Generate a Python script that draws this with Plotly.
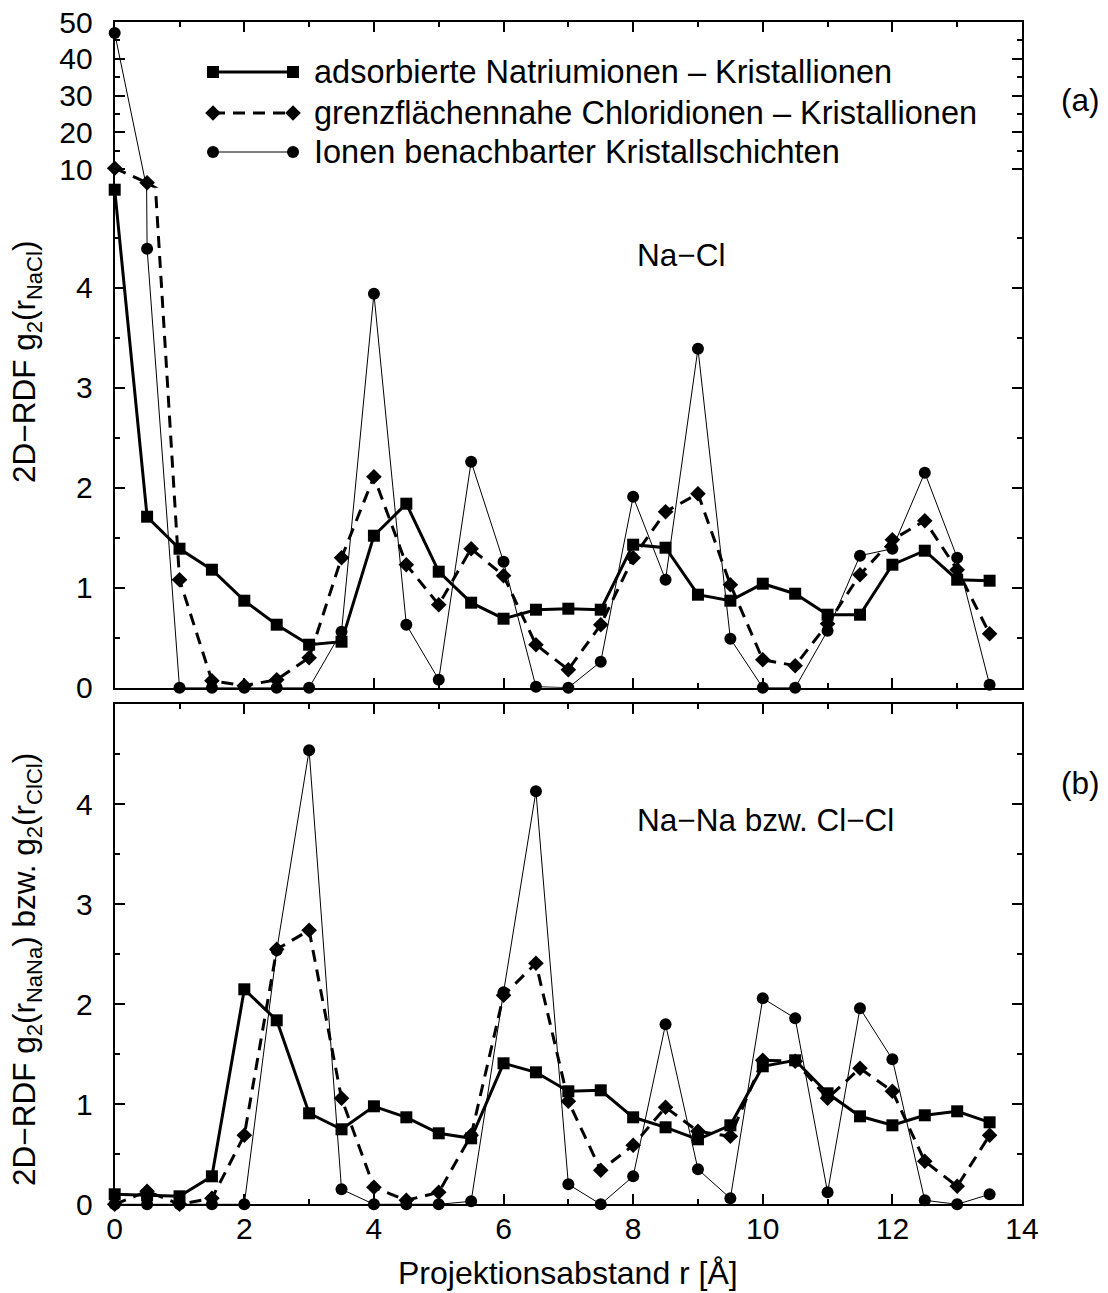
import plotly.graph_objects as go

# Projection distance r in Angstrom
r = [0.0, 0.5, 1.0, 1.5, 2.0, 2.5, 3.0, 3.5, 4.0, 4.5, 5.0, 5.5, 6.0, 6.5,
     7.0, 7.5, 8.0, 8.5, 9.0, 9.5, 10.0, 10.5, 11.0, 11.5, 12.0, 12.5, 13.0, 13.5]

# (a) Na-Cl 2D-RDF
nacl_na_ads = [4.98, 1.71, 1.39, 1.18, 0.87, 0.63, 0.43, 0.46, 1.52, 1.84, 1.16, 0.85, 0.69, 0.78,
               0.79, 0.78, 1.43, 1.40, 0.93, 0.87, 1.04, 0.94, 0.73, 0.73, 1.23, 1.37, 1.08, 1.07]
nacl_cl_int = [10.3, 6.36, 1.08, 0.07, 0.02, 0.08, 0.30, 1.30, 2.11, 1.23, 0.83, 1.39, 1.12, 0.43,
               0.18, 0.63, 1.30, 1.76, 1.94, 1.03, 0.28, 0.22, 0.64, 1.13, 1.48, 1.67, 1.18, 0.54]
nacl_layers = [47.0, 4.39, 0.0, 0.0, 0.0, 0.0, 0.0, 0.56, 3.94, 0.63, 0.08, 2.26, 1.26, 0.01,
               0.0, 0.26, 1.91, 1.08, 3.39, 0.49, 0.0, 0.0, 0.57, 1.32, 1.39, 2.15, 1.30, 0.03]

# (b) Na-Na resp. Cl-Cl 2D-RDF
same_na_ads = [0.10, 0.09, 0.08, 0.28, 2.15, 1.84, 0.91, 0.75, 0.98, 0.87, 0.71, 0.66, 1.41, 1.32,
               1.13, 1.14, 0.87, 0.77, 0.65, 0.79, 1.38, 1.44, 1.11, 0.88, 0.79, 0.89, 0.93, 0.82]
same_cl_int = [0.0, 0.13, 0.0, 0.06, 0.69, 2.55, 2.74, 1.06, 0.17, 0.04, 0.12, 0.69, 2.09, 2.41,
               1.03, 0.34, 0.59, 0.97, 0.73, 0.68, 1.44, 1.43, 1.06, 1.36, 1.13, 0.43, 0.18, 0.69]
same_layers = [0.0, 0.0, 0.0, 0.0, 0.0, 2.54, 4.54, 0.15, 0.0, 0.0, 0.0, 0.03, 2.12, 4.13,
               0.20, 0.0, 0.28, 1.80, 0.35, 0.06, 2.06, 1.86, 0.12, 1.96, 1.45, 0.04, 0.0, 0.10]

series_names = [
    "adsorbierte Natriumionen – Kristallionen",
    "grenzflächennahe Chloridionen – Kristallionen",
    "Ionen benachbarter Kristallschichten",
]

# broken y axis of panel (a): linear 0..5 below, compressed 5..50 above
y_break = 5.0
upper_major = [10, 20, 30, 40, 50]
upper_minor = [5, 15, 25, 35, 45]
lower_major = [0, 1, 2, 3, 4]
lower_minor = [0.5, 1.5, 2.5, 3.5, 4.5]
x_major = [0, 2, 4, 6, 8, 10, 12, 14]

FONT = "Liberation Sans, Arial, Helvetica, sans-serif"
W, H = 1108, 1293
X0, X1 = 114.7, 1022.0
A_TOP, A_BRK, A_BOT = 22.0, 187.7, 687.7
B_TOP, B_BOT = 704.3, 1204.3
TEXT_SIZE = 31.5
LEGEND_SIZE = 32.5
TICK_SIZE = 30


def px(v):
    return v / W


def py(v):
    return 1 - v / H


styles = [
    dict(symbol="square", size=12, lw=3.0, dash="solid"),
    dict(symbol="diamond", size=12, lw=3.0, dash="12px,8px"),
    dict(symbol="circle", size=12, lw=1.0, dash="solid"),
]

fig = go.Figure()


def add_series(vals, st, xa, ya, keep):
    fig.add_trace(go.Scatter(
        x=r, y=vals, mode="lines", xaxis=xa, yaxis=ya, showlegend=False,
        line=dict(color="black", width=st["lw"], dash=st["dash"]), hoverinfo="skip"))
    fig.add_trace(go.Scatter(
        x=r, y=[v if keep(v) else None for v in vals], mode="markers",
        xaxis=xa, yaxis=ya, showlegend=False, cliponaxis=False,
        marker=dict(symbol=st["symbol"], size=st["size"], color="black", line=dict(width=0))))


panel_a = [nacl_na_ads, nacl_cl_int, nacl_layers]
panel_b = [same_na_ads, same_cl_int, same_layers]

for vals, st in zip(panel_a, styles):
    add_series(vals, st, "x2", "y2", lambda v: v <= y_break)
    add_series(vals, st, "x", "y", lambda v: v > y_break)
for vals, st in zip(panel_b, styles):
    add_series(vals, st, "x3", "y3", lambda v: True)

# legend samples drawn on a pixel overlay axis
leg_rows = [72, 113, 152]
for row, st in zip(leg_rows, styles):
    fig.add_trace(go.Scatter(
        x=[213, 293], y=[row, row], mode="lines+markers", xaxis="x4", yaxis="y4",
        showlegend=False, cliponaxis=False,
        line=dict(color="black", width=st["lw"], dash=st["dash"]),
        marker=dict(symbol=st["symbol"], size=st["size"], color="black", line=dict(width=0))))

TICKFONT = dict(family=FONT, size=TICK_SIZE, color="black")
MINOR = dict(ticks="inside", ticklen=5, tickwidth=1.5, tickcolor="black")
common_x = dict(range=[0, 14], domain=[px(X0), px(X1)], showline=True, linewidth=2,
                linecolor="black", showgrid=False, zeroline=False, automargin=False,
                ticks="inside", ticklen=10, tickwidth=1.5, tickcolor="black",
                tickvals=x_major, minor=dict(MINOR, dtick=1, tick0=0),
                tickfont=TICKFONT)
common_y = dict(showline=True, linewidth=2, linecolor="black", showgrid=False, zeroline=False,
                automargin=False, ticks="inside", ticklen=10, tickwidth=1.5, tickcolor="black",
                mirror="allticks", tickfont=TICKFONT, ticklabelstandoff=14)

fig.update_layout(
    template="none",
    width=W, height=H, margin=dict(l=0, r=0, t=0, b=0, autoexpand=False),
    paper_bgcolor="white", plot_bgcolor="rgba(0,0,0,0)",
    font=dict(family=FONT, size=TEXT_SIZE, color="black"),
    showlegend=False,
    xaxis=dict(common_x, anchor="y", side="top", showticklabels=False),
    yaxis=dict(common_y, anchor="x", domain=[py(A_BRK), py(A_TOP)], range=[y_break, 50],
               tickvals=upper_major, minor=dict(MINOR, tickvals=upper_minor)),
    xaxis2=dict(common_x, anchor="y2", showticklabels=False),
    yaxis2=dict(common_y, anchor="x2", domain=[py(A_BOT), py(A_BRK)], range=[0, y_break],
                tickvals=lower_major, minor=dict(MINOR, tickvals=lower_minor)),
    xaxis3=dict(common_x, anchor="y3", mirror="allticks", ticklabelstandoff=-3),
    yaxis3=dict(common_y, anchor="x3", domain=[py(B_BOT), py(B_TOP)], range=[0, 5],
                tickvals=lower_major, minor=dict(MINOR, tickvals=lower_minor)),
    xaxis4=dict(domain=[0, 1], range=[0, W], visible=False, anchor="y4", fixedrange=True,
                automargin=False),
    yaxis4=dict(domain=[0, 1], range=[H, 0], visible=False, anchor="x4", fixedrange=True,
                automargin=False),
)

ann = []
for row, name in zip(leg_rows, series_names):
    ann.append(dict(x=px(312), y=py(row), text=name, xanchor="left", yanchor="middle",
                    font=dict(size=LEGEND_SIZE)))
ann += [
    dict(x=px(635), y=py(255), text="Na−Cl", xanchor="left", yanchor="middle"),
    dict(x=px(635), y=py(820), text="Na−Na bzw. Cl−Cl", xanchor="left", yanchor="middle"),
    dict(x=px(1080), y=py(100), text="(a)", xanchor="center", yanchor="middle"),
    dict(x=px(1080), y=py(783), text="(b)", xanchor="center", yanchor="middle"),
    dict(x=px(568), y=py(1273), text="Projektionsabstand r [Å]", xanchor="center",
         yanchor="middle", font=dict(size=32)),
    dict(x=px(26), y=py(362), text="2D−RDF g<sub>2</sub>(r<sub>NaCl</sub>)",
         textangle=-90, xanchor="center", yanchor="middle"),
    dict(x=px(26), y=py(970),
         text="2D−RDF g<sub>2</sub>(r<sub>NaNa</sub>) bzw. g<sub>2</sub>(r<sub>ClCl</sub>)",
         textangle=-90, xanchor="center", yanchor="middle"),
]
for a in ann:
    f = dict(family=FONT, size=TEXT_SIZE, color="black")
    f.update(a.get("font", {}))
    a.update(xref="paper", yref="paper", showarrow=False, font=f)
fig.update_layout(annotations=ann)

fig.write_html("out.html")
